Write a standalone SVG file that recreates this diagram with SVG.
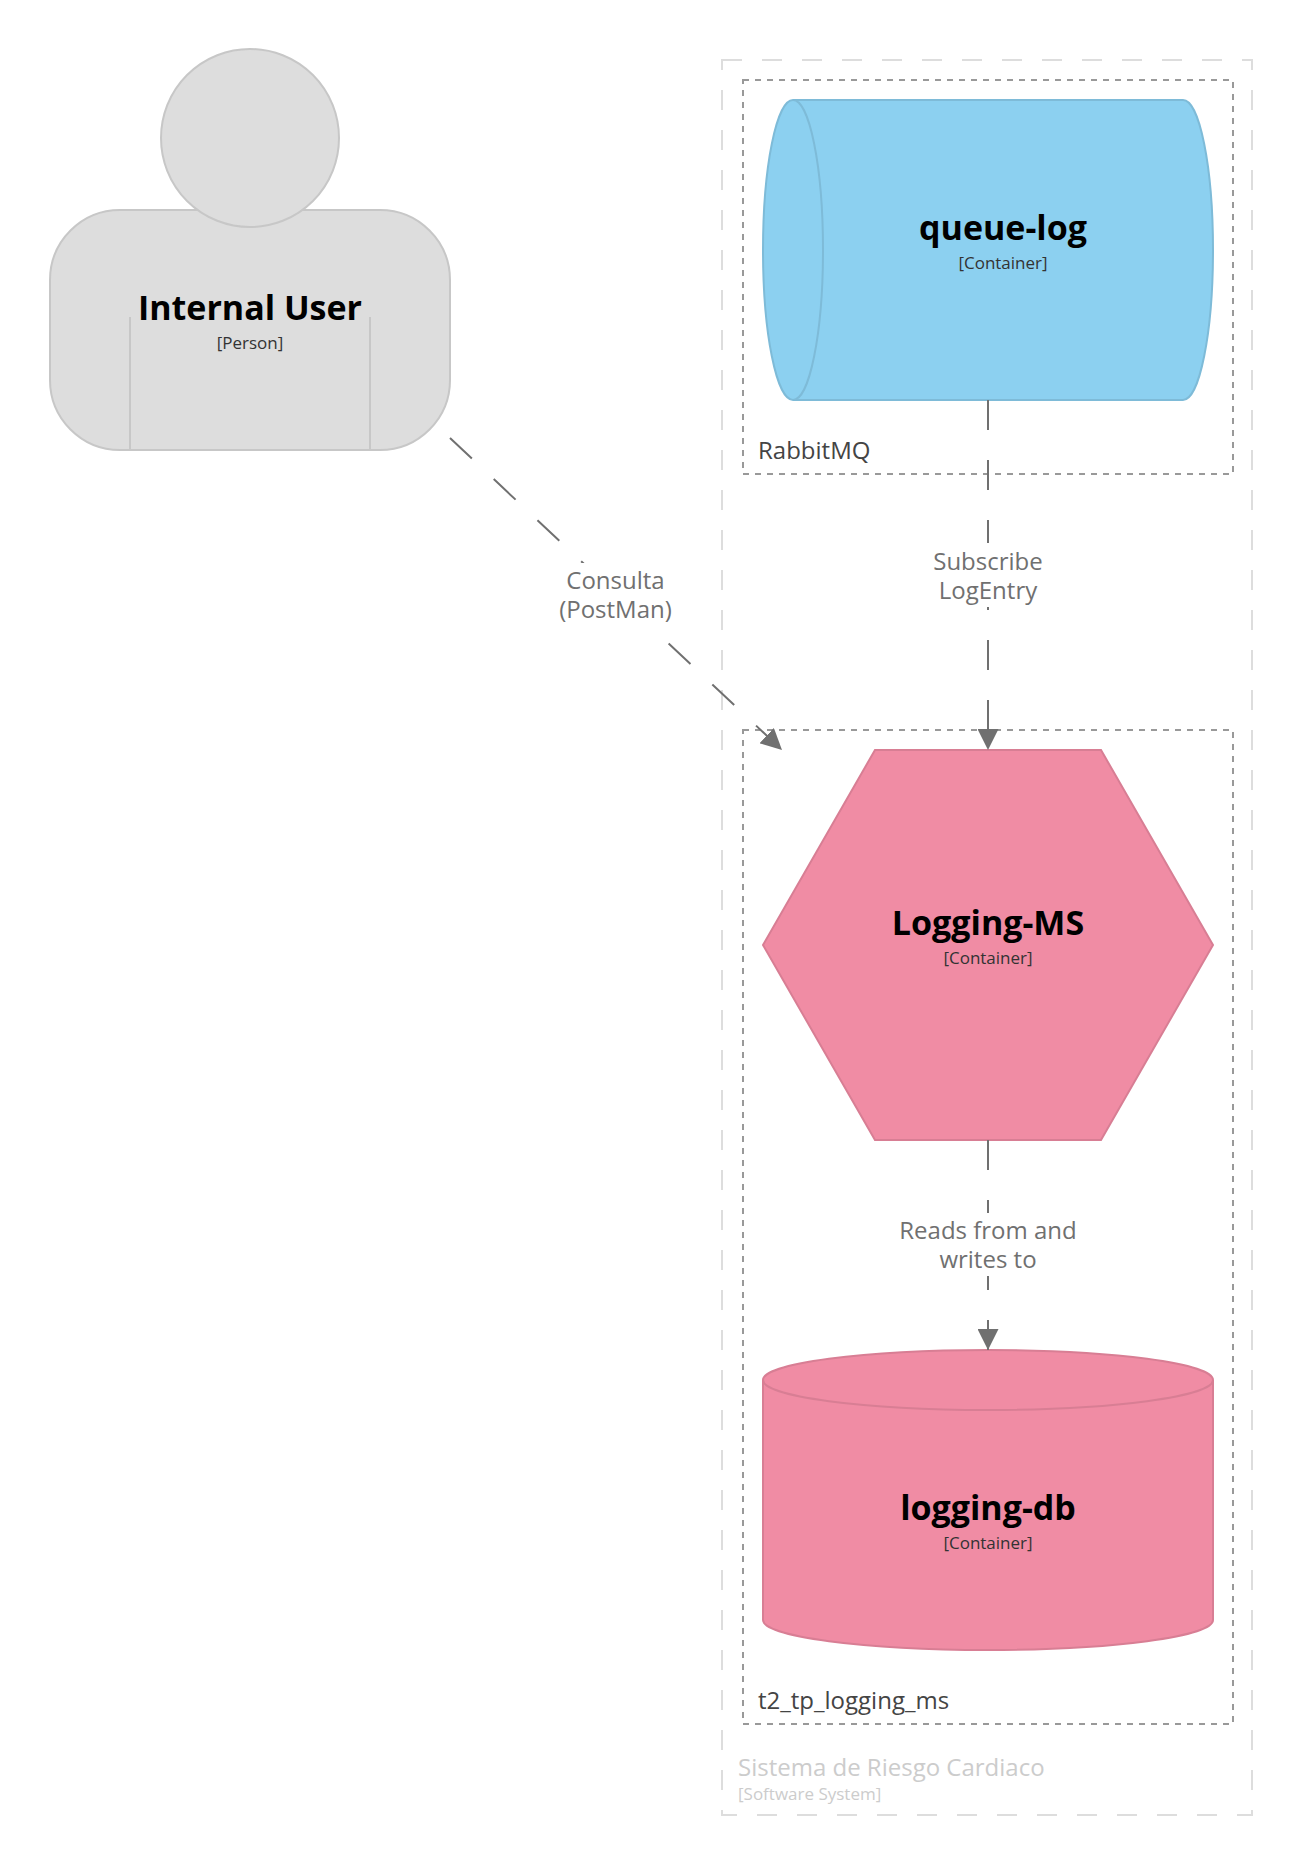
<svg xmlns="http://www.w3.org/2000/svg" width="1303" height="1865" viewBox="0 0 1303 1865">
<style>
text{font-family:"Open Sans","Noto Sans","Liberation Sans",sans-serif;text-anchor:middle}
.name{font-size:34px;font-weight:700;fill:#000}
.meta{font-size:17px;fill:#333}
.lbl{font-size:24px;fill:#707070}
.bname{font-size:24px;fill:#444;text-anchor:start}
.outer{fill:none;stroke:#dddddd;stroke-width:2;stroke-dasharray:20 20}
.inner{fill:none;stroke:#999;stroke-width:2;stroke-dasharray:6 6}
.person{fill:#dddddd;stroke:#c7c7c7;stroke-width:2}
.blue{fill:#8cd0f0;stroke:#7ebbd8;stroke-width:2}
.pink{fill:#f08ca4;stroke:#d87e94;stroke-width:2}
.line{fill:none;stroke:#707070;stroke-width:2;stroke-dasharray:30 30}
.mask{fill:#fff;stroke:none}
</style>
<defs>
<marker id="arrow" viewBox="0 0 21 21" refX="21" refY="10.500" markerWidth="21" markerHeight="21" markerUnits="userSpaceOnUse" orient="auto"><path d="M0 0L21 10.500L0 21Z" fill="#707070"/></marker>
</defs>
<rect width="1303" height="1865" fill="#fff"/>
<g id="boundary-system">
<rect class="outer" x="722" y="60" width="530" height="1755"/>
<text x="738" y="1776" style="text-anchor:start;font-size:24px;fill:#cccccc">Sistema de Riesgo Cardiaco</text>
<text x="738" y="1800" style="text-anchor:start;font-size:17px;fill:#cccccc">[Software System]</text>
</g>
<g id="boundary-rabbitmq">
<rect class="inner" x="743" y="80" width="490" height="394"/>
<text class="bname" x="758" y="459">RabbitMQ</text>
</g>
<g id="boundary-logging">
<rect class="inner" x="743" y="730" width="490" height="994"/>
<text class="bname" x="758" y="1709">t2_tp_logging_ms</text>
</g>
<g id="node-internal-user">
<rect class="person" x="50" y="210" width="400" height="240" rx="70" ry="70"/>
<path class="person" style="fill:none" d="M130 317V450M370 317V450"/>
<circle class="person" cx="250" cy="138" r="89"/>
<text class="name" x="250" y="320">Internal User</text>
<text class="meta" x="250" y="349">[Person]</text>
</g>
<g id="node-queue-log">
<path class="blue" d="M793 100H1183A30 150 0 0 1 1213 250A30 150 0 0 1 1183 400H793A30 150 0 0 1 763 250A30 150 0 0 1 793 100Z"/>
<path d="M793 100A30 150 0 0 1 823 250A30 150 0 0 1 793 400" fill="none" stroke="#7ebbd8" stroke-width="2"/>
<text class="name" x="1003" y="240">queue-log</text>
<text class="meta" x="1003" y="269">[Container]</text>
</g>
<g id="node-logging-ms">
<path class="pink" d="M875 750H1101L1213 945L1101 1140H875L763 945Z"/>
<text class="name" x="988" y="935">Logging-MS</text>
<text class="meta" x="988" y="964">[Container]</text>
</g>
<g id="node-logging-db">
<path class="pink" d="M763 1380A225 30 0 0 1 1213 1380V1620A225 30 0 0 1 763 1620Z"/>
<path d="M763 1380A225 30 0 0 0 1213 1380" fill="none" stroke="#d87e94" stroke-width="2"/>
<text class="name" x="988" y="1520">logging-db</text>
<text class="meta" x="988" y="1549">[Container]</text>
</g>
<g id="connectors">
<path class="line" marker-end="url(#arrow)" d="M450 438L782 750"/>
<rect class="mask" x="555" y="563" width="121" height="63"/>
<text class="lbl" x="615.500" y="589">Consulta</text>
<text class="lbl" x="615.500" y="618">(PostMan)</text>
<path class="line" marker-end="url(#arrow)" d="M988 400V750"/>
<rect class="mask" x="931" y="543" width="114" height="64"/>
<text class="lbl" x="988" y="570">Subscribe</text>
<text class="lbl" x="988" y="599">LogEntry</text>
<path class="line" marker-end="url(#arrow)" d="M988 1140V1350"/>
<rect class="mask" x="897" y="1213" width="182" height="63"/>
<text class="lbl" x="988" y="1239">Reads from and</text>
<text class="lbl" x="988" y="1268">writes to</text>
</g>
</svg>
